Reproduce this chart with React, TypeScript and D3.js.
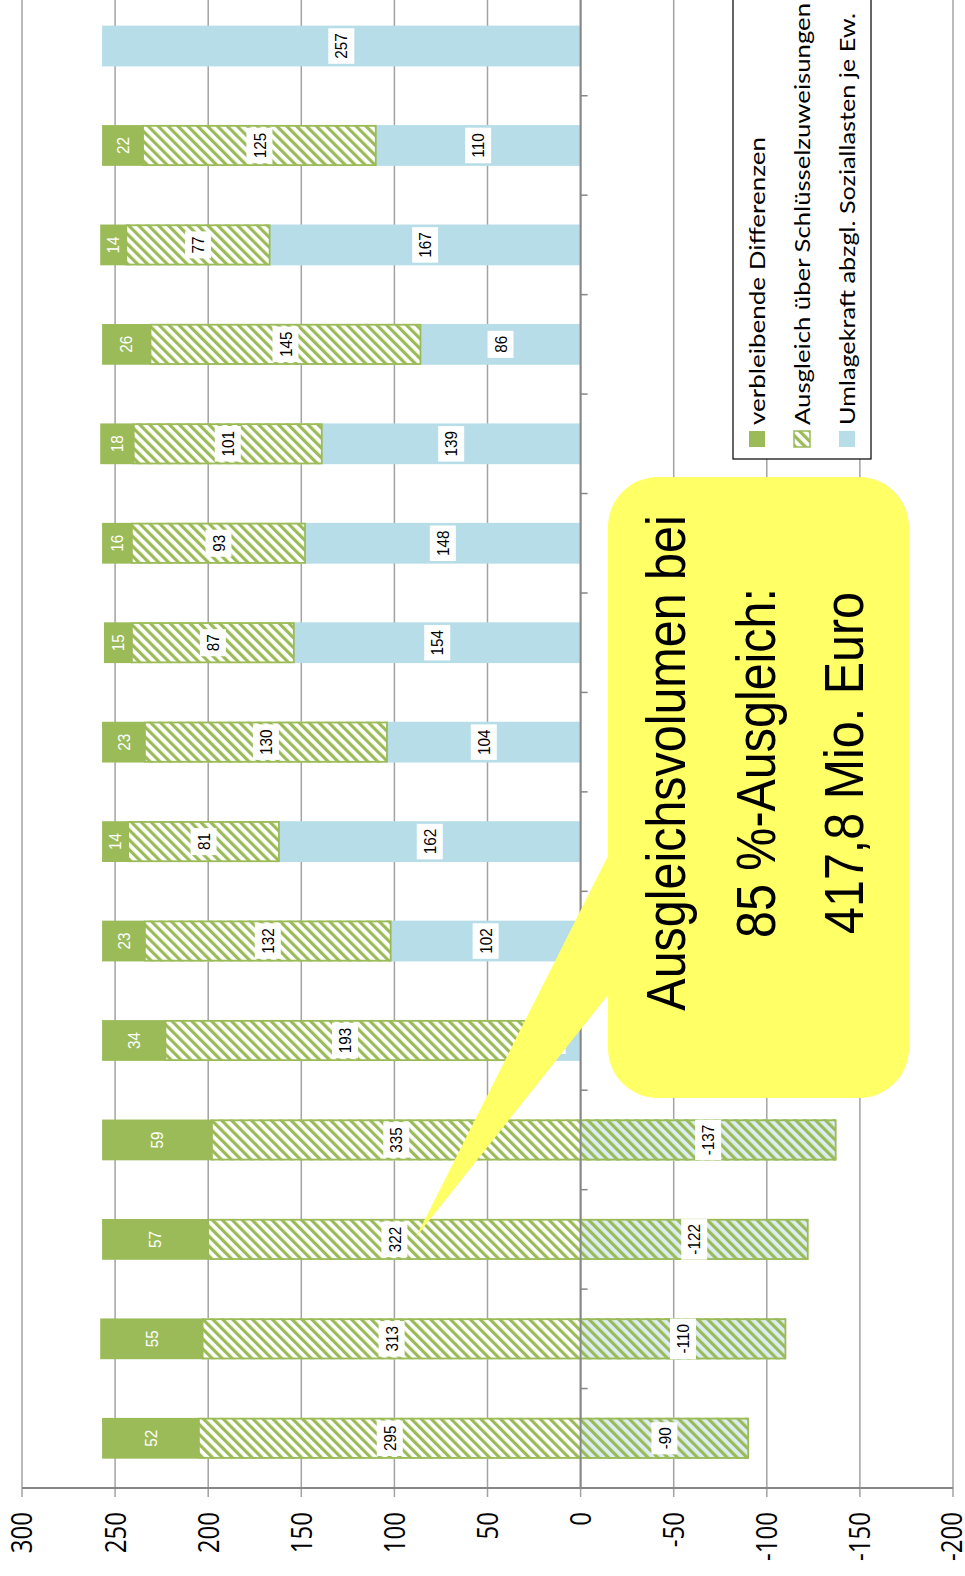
import React from 'react';
import * as d3 from 'd3';

const categories = ['K1', 'K2', 'K3', 'K4', 'K5', 'K6', 'K7', 'K8', 'K9', 'K10', 'K11', 'K12', 'K13', 'K14', 'K15'];
const umlageValues: (number | null)[] = [-90, -110, -122, -137, 30, 102, 162, 104, 154, 148, 139, 86, 167, 110, 257];
const ausgleichValues: (number | null)[] = [295, 313, 322, 335, 193, 132, 81, 130, 87, 93, 101, 145, 77, 125, null];
const diffValues: (number | null)[] = [52, 55, 57, 59, 34, 23, 14, 23, 15, 16, 18, 26, 14, 22, null];
const valueTicks = [300, 250, 200, 150, 100, 50, 0, -50, -100, -150, -200];
const legendLabels = [
  'verbleibende Differenzen',
  'Ausgleich über Schlüsselzuweisungen',
  'Umlagekraft abzgl. Soziallasten je Ew.',
];
const calloutLines = ['Ausgleichsvolumen bei', '85 %-Ausgleich:', '417,8 Mio. Euro'];

const GREEN = '#9BBB59';
const BLUE = '#B7DEE8';
const LIGHTBLUE = '#DCEEF4';
const YELLOW = '#FFFF66';
const GRID = '#A3A3A3';
const AXIS = '#878787';

const LBL_FS = 17;
const LBL_SX = 0.9;
function textLen(s: string) {
  let w = 0;
  for (const c of s) w += c === '-' ? 0.333 : 0.556;
  return w * LBL_FS * LBL_SX;
}

export default function App() {
  const W = 965;
  const H = 1576;
  const x = d3.scaleLinear().domain([300, -200]).range([22, 953]);
  const y = d3
    .scaleBand<string>()
    .domain([...categories].reverse())
    .range([-3.7, 1488])
    .paddingInner(0.59)
    .paddingOuter(0.295);
  const bw = y.bandwidth();
  const step = y.step();
  const x0 = x(0);
  const axisY = 1488;

  const rectX = (a: number, b: number) => {
    const xa = x(a), xb = x(b);
    return { x: Math.min(xa, xb), w: Math.abs(xa - xb) };
  };

  const labels: { cx: number; cy: number; text: string; box: boolean }[] = [];

  const bars = categories.map((c, i) => {
    const yy = y(c) as number;
    const cy = yy + bw / 2;
    const u = umlageValues[i] as number;
    const a = ausgleichValues[i];
    const d = diffValues[i];
    const els: React.ReactNode[] = [];
    const rb = rectX(0, u);
    els.push(<rect key="b" x={rb.x} y={yy} width={rb.w} height={bw} fill={BLUE} />);
    labels.push({ cx: x(u / 2), cy, text: String(u), box: true });
    if (a != null) {
      const rh = rectX(u, u + a);
      els.push(<rect key="h" x={rh.x} y={yy} width={rh.w} height={bw} fill="url(#hatchW)" />);
      if (u < 0) {
        const ro = rectX(u, 0);
        els.push(<rect key="ho" x={ro.x} y={yy} width={ro.w} height={bw} fill="url(#hatchB)" />);
      }
      els.push(
        <rect key="hs" x={rh.x} y={yy + 0.75} width={rh.w} height={bw - 1.5} fill="none" stroke={GREEN} strokeWidth={1.8} />
      );
      const hc = u < 0 ? (u + a) / 2 : u + a / 2;
      labels.push({ cx: x(hc), cy, text: String(a), box: true });
      if (d != null) {
        const rg = rectX(u + a, u + a + d);
        els.push(<rect key="g" x={rg.x} y={yy} width={rg.w} height={bw} fill={GREEN} />);
        labels.push({ cx: x(u + a + d / 2), cy, text: String(d), box: false });
      }
    }
    return <g key={c}>{els}</g>;
  });

  const boundaries = d3.range(categories.length + 1).map((k) => -3.7 + k * step);

  return (
    <svg
      width={W}
      height={H}
      style={{ position: 'absolute', left: 0, top: 0, background: '#fff' }}
      xmlns="http://www.w3.org/2000/svg"
    >
      <defs>
        <pattern id="hatchW" patternUnits="userSpaceOnUse" width={7} height={7} patternTransform="rotate(-45)">
          <rect x={0} y={0} width={7} height={7} fill="#fff" />
          <rect x={0} y={0} width={3.2} height={7} fill={GREEN} />
        </pattern>
        <pattern id="hatchB" patternUnits="userSpaceOnUse" width={7} height={7} patternTransform="rotate(-45)">
          <rect x={0} y={0} width={7} height={7} fill={LIGHTBLUE} />
          <rect x={0} y={0} width={3.2} height={7} fill={GREEN} />
        </pattern>
      </defs>
      <rect x={0} y={0} width={W} height={H} fill="#fff" />

      {/* gridlines */}
      {valueTicks.map((t) => (
        <line key={'g' + t} x1={x(t)} x2={x(t)} y1={0} y2={axisY + 9} stroke={GRID} strokeWidth={1.5} />
      ))}

      {bars}

      {/* category axis at 0 */}
      <line x1={x0} x2={x0} y1={0} y2={axisY} stroke={AXIS} strokeWidth={2} />
      {boundaries.map((b, k) => (
        <line key={'t' + k} x1={x0} x2={x0 + 7} y1={b} y2={b} stroke={AXIS} strokeWidth={1.5} />
      ))}

      {/* value axis */}
      <line x1={x(300)} x2={x(-200)} y1={axisY} y2={axisY} stroke={AXIS} strokeWidth={2} />
      {valueTicks.map((t) => (
        <text
          key={'l' + t}
          transform={`translate(${t === -200 ? x(t) - 1.5 : x(t)},1512) rotate(-90) scale(0.83,1)`}
          textAnchor="end"
          dy="0.36em"
          fontFamily="'Open Sans', sans-serif"
          fontSize={29}
          fill="#000"
        >
          {String(t)}
        </text>
      ))}

      {/* data labels */}
      {labels.map((l, i) => {
        const len = textLen(l.text);
        return (
          <g key={'dl' + i}>
            {l.box && <rect x={l.cx - 13} y={l.cy - len / 2 - 5} width={26} height={len + 10} fill="#fff" />}
            <text
              transform={`translate(${l.cx},${l.cy}) rotate(-90) scale(${LBL_SX},1)`}
              textAnchor="middle"
              dy="0.36em"
              fontFamily="'Liberation Sans', Arial, sans-serif"
              fontSize={LBL_FS}
              fill={l.box ? '#000' : '#fff'}
            >
              {l.text}
            </text>
          </g>
        );
      })}

      {/* legend */}
      <rect x={733} y={-2} width={138} height={461} fill="#fff" stroke="#000" strokeWidth={1.2} />
      {legendLabels.map((s, i) => {
        const base = [765, 810, 855][i];
        const len = [288, 422, 412][i];
        const fill = i === 0 ? GREEN : i === 1 ? 'url(#hatchW)' : BLUE;
        return (
          <g key={'lg' + i}>
            <rect
              x={base - 16}
              y={431}
              width={16}
              height={16}
              fill={fill}
              stroke={i === 1 ? GREEN : 'none'}
              strokeWidth={i === 1 ? 1.5 : 0}
            />
            <text
              transform={`translate(${base},425) rotate(-90)`}
              textAnchor="start"
              fontFamily="Lato, 'Open Sans', sans-serif"
              fontSize={22}
              textLength={len}
              lengthAdjust="spacingAndGlyphs"
              fill="#000"
            >
              {s}
            </text>
          </g>
        );
      })}

      {/* callout */}
      <g>
        <polygon points="608,856 416,1237 608,995 650,995 650,856" fill={YELLOW} />
        <rect x={608} y={477} width={301} height={621} rx={50} ry={50} fill={YELLOW} />
        {calloutLines.map((s, i) => (
          <text
            key={'c' + i}
            transform={`translate(${[685, 775, 863][i]},763) rotate(-90) scale(0.865,1)`}
            textAnchor="middle"
            fontFamily="'Liberation Sans', Arial, sans-serif"
            fontSize={56}
            fill="#000"
          >
            {s}
          </text>
        ))}
      </g>
    </svg>
  );
}
